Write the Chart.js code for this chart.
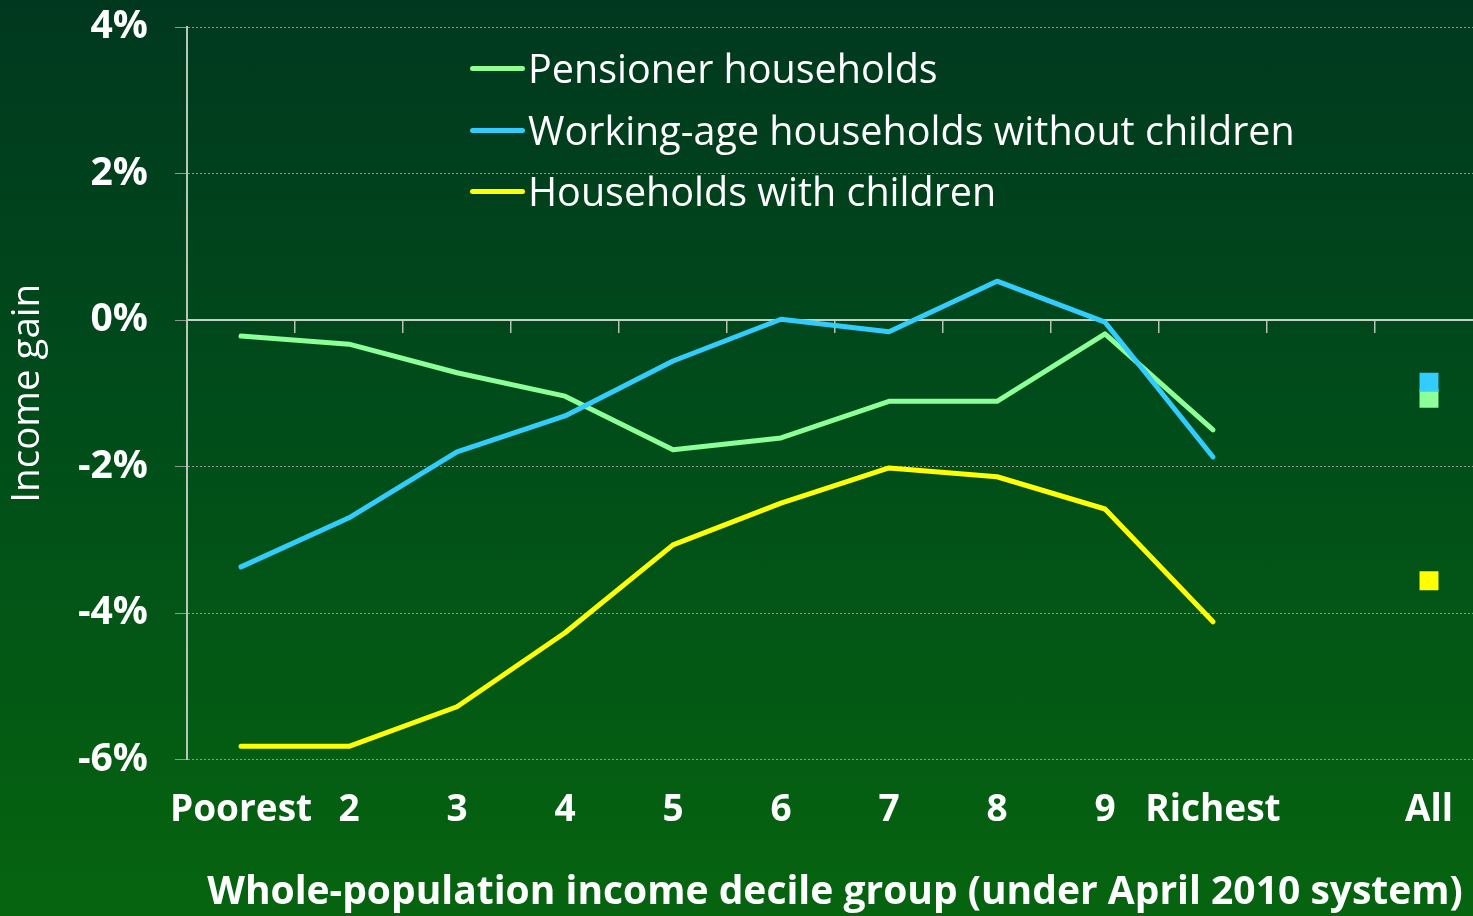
<!DOCTYPE html>
<html>
<head>
<meta charset="utf-8">
<script src="https://cdn.jsdelivr.net/npm/chart.js@4/dist/chart.umd.min.js"></script>
<style>
  html, body { margin: 0; padding: 0; }
  body {
    width: 1473px; height: 916px; overflow: hidden; position: relative;
    background: linear-gradient(to bottom, #00381f 0%, #004a1b 40%, #06640f 100%);
    font-family: "Open Sans", "Noto Sans", sans-serif;
  }
  #wrap { position: absolute; left: 0; top: 0; width: 1500px; height: 916px; }
  .leg { position: absolute; left: 470px; height: 44px; display: flex; align-items: center; color: #fff; font-size: 39.5px; white-space: nowrap; }
  .leg i { display: inline-block; width: 55px; height: 5px; border-radius: 3px; margin-right: 3px; }
</style>
</head>
<body>
<div id="wrap"><canvas id="chart"></canvas></div>
<div class="leg" style="top:46px"><i style="background:#8cff99"></i>Pensioner households</div>
<div class="leg" style="top:108px"><i style="background:#33ccff"></i>Working-age households without children</div>
<div class="leg" style="top:169px"><i style="background:#ffff00"></i>Households with children</div>
<script>
// categories on the x axis (blank slot before "All")
const categories = ['Poorest', '2', '3', '4', '5', '6', '7', '8', '9', 'Richest', '', 'All'];
// income gain, % (null = no value in that slot)
const pensioner    = [-0.22, -0.33, -0.72, -1.04, -1.77, -1.61, -1.11, -1.11, -0.19, -1.50, null, -1.07];
const workingAge   = [-3.37, -2.70, -1.80, -1.31, -0.56,  0.01, -0.16,  0.53, -0.03, -1.87, null, -0.85];
const withChildren = [-5.82, -5.82, -5.28, -4.27, -3.07, -2.50, -2.02, -2.14, -2.58, -4.12, null, -3.56];
const yTickValues = [-6, -4, -2, 0, 2, 4];

const allIndex = categories.indexOf('All');

function series(label, data, color, order) {
    return {
        label: label,
        data: data,
        borderColor: color,
        backgroundColor: color,
        borderWidth: 5,
        borderCapStyle: 'round',
        borderJoinStyle: 'round',
        pointStyle: 'rect',
        pointRadius: ctx => ctx.dataIndex === allIndex ? 13.4 : 0,
        pointHoverRadius: ctx => ctx.dataIndex === allIndex ? 13.4 : 0,
        pointBorderWidth: 0,
        pointBackgroundColor: color,
        order: order,
        tension: 0
    };
}

new Chart(document.getElementById('chart'), {
    type: 'line',
    data: {
        labels: categories,
        datasets: [
            series('Pensioner households', pensioner, '#8cff99', 1),
            series('Working-age households without children', workingAge, '#33ccff', 0),
            series('Households with children', withChildren, '#ffff00', 2)
        ]
    },
    options: {
        responsive: true,
        maintainAspectRatio: false,
        animation: false,
        layout: { padding: { top: 27, right: 17, left: 0, bottom: 0 } },
        plugins: { legend: { display: false }, tooltip: { enabled: false } },
        scales: {
            x: {
                type: 'category',
                offset: true,
                grid: { display: false, drawTicks: false },
                border: { display: false },
                ticks: {
                    color: '#ffffff',
                    font: { family: 'Open Sans', size: 37, weight: 'bold' },
                    padding: 29,
                    maxRotation: 0,
                    autoSkip: false
                },
                title: {
                    display: true,
                    text: 'Whole-population income decile group (under April 2010 system)',
                    color: '#ffffff',
                    font: { family: 'Open Sans', size: 39, weight: 'bold' },
                    padding: { top: 0, bottom: 0 }
                },
                afterFit: s => { s.height = 156.5; s.paddingTop = 0; }
            },
            // zero line with small tick marks between categories
            xz: {
                axis: 'x',
                type: 'category',
                position: { y: 0 },
                offset: true,
                grid: { offset: true, drawOnChartArea: false, drawTicks: true, tickLength: 12, color: '#b4c4b4', lineWidth: 1.5 },
                border: { display: true, color: '#c4d2c4', width: 2 },
                ticks: { display: false },
                afterFit: s => { s.height = 0; s.paddingTop = 0; s.paddingBottom = 0; }
            },
            y: {
                min: -6,
                max: 4,
                afterBuildTicks: s => { s.ticks = yTickValues.map(v => ({ value: v })); },
                grid: { color: '#8c9c8c', lineWidth: 1, drawTicks: true, tickLength: 12 },
                border: { display: true, color: '#b8c8b8', width: 2, dash: [2, 2] },
                ticks: {
                    color: '#ffffff',
                    font: { family: 'Open Sans', size: 39, weight: 'bold' },
                    padding: 27,
                    callback: v => v + '%'
                },
                title: {
                    display: true,
                    text: 'Income gain',
                    color: '#ffffff',
                    font: { family: 'Open Sans', size: 38.5 },
                    padding: { top: 5, bottom: 0 }
                },
                afterFit: s => { s.width = 187; s.paddingTop = 0; s.paddingBottom = 0; }
            }
        }
    }
});
</script>
</body>
</html>
